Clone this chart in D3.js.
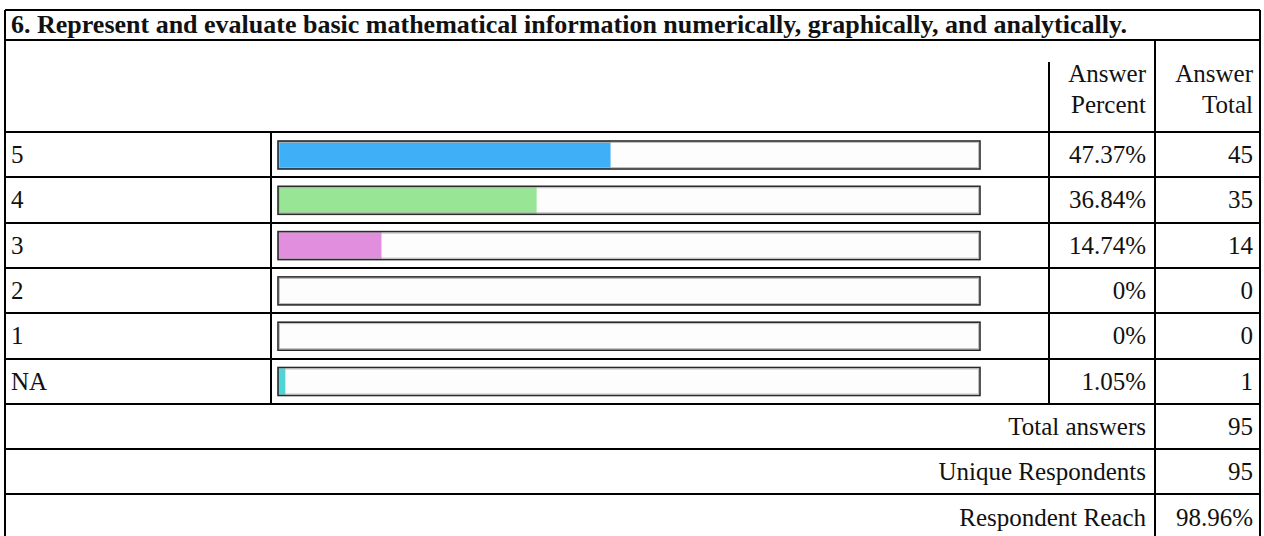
<!DOCTYPE html>
<html>
<head>
<meta charset="utf-8">
<script src="https://cdn.jsdelivr.net/npm/d3@7"></script>
<style>
  html, body { margin: 0; padding: 0; background: #fff; }
  svg { display: block; }
  text { font-family: "Liberation Serif", "Times New Roman", serif; fill: #111; }
</style>
</head>
<body>
<svg id="chart" width="1264" height="536"></svg>
<script>
const title = "6. Represent and evaluate basic mathematical information numerically, graphically, and analytically.";
const headerPercent = ["Answer", "Percent"];
const headerTotal = ["Answer", "Total"];
const categories = ["5", "4", "3", "2", "1", "NA"];
const percents = [47.37, 36.84, 14.74, 0, 0, 1.05];
const totals = [45, 35, 14, 0, 0, 1];
const barColors = ["#3fb0f7", "#98e596", "#e28ede", "#c8c8c8", "#c8c8c8", "#52d4d6"];
const summaryLabels = ["Total answers", "Unique Respondents", "Respondent Reach"];
const summaryValues = ["95", "95", "98.96%"];

const svg = d3.select("#chart");
const W = 1264, H = 536;

// layout
const xL = 5, xC1 = 271, xC2 = 1049, xC3 = 1155, xR = 1260;
const yTop = 10, yTitleB = 40, yHeadB = 132, rowH = 45.3;
const nRows = categories.length + summaryLabels.length;
const yRow = d3.scaleLinear().domain([0, nRows]).range([yHeadB, yHeadB + rowH * nRows]);
const xBar = d3.scaleLinear().domain([0, 100]).range([278, 980]);
const fmtPct = v => `${+v.toFixed(2)}%`;
const fs = 25;

const lines = svg.append("g").attr("stroke", "#000").attr("stroke-width", 2).attr("shape-rendering", "crispEdges");
const texts = svg.append("g").attr("font-size", fs);

// title
svg.append("text")
  .attr("x", 11).attr("y", 33)
  .attr("font-size", 26).attr("font-weight", "bold")
  .text(title);

function hline(x1, x2, y, w) { lines.append("line").attr("x1", x1).attr("x2", x2).attr("y1", y).attr("y2", y).attr("stroke-width", w || 2); }
function vline(x, y1, y2, w) { lines.append("line").attr("x1", x).attr("x2", x).attr("y1", y1).attr("y2", y2).attr("stroke-width", w || 2); }

hline(xL, xR, yTop);
hline(xL, xR, yTitleB);
vline(xL, yTop, H);
vline(xR, yTop, H);
vline(xC2, yTitleB + 22, yHeadB);
vline(xC3, yTitleB, H);

// header text
[[headerPercent, xC3 - 9], [headerTotal, xR - 7]].forEach(([lbl, x]) => {
  texts.append("text").attr("x", x).attr("y", 82).attr("text-anchor", "end").text(lbl[0]);
  texts.append("text").attr("x", x).attr("y", 113).attr("text-anchor", "end").text(lbl[1]);
});

// data rows
categories.forEach((c, i) => {
  const y0 = yRow(i), y1 = yRow(i + 1);
  hline(xL, xR, y0);
  vline(xC1, y0, y1);
  vline(xC2, y0, y1);
  const base = (y0 + y1) / 2 + 8.5;
  texts.append("text").attr("x", 11).attr("y", base).text(c);
  texts.append("text").attr("x", xC3 - 9).attr("y", base).attr("text-anchor", "end").text(fmtPct(percents[i]));
  texts.append("text").attr("x", xR - 7).attr("y", base).attr("text-anchor", "end").text(totals[i]);

  const by = y0 + 9, bh = 28;
  svg.append("rect")
    .attr("x", xBar(0)).attr("y", by).attr("width", xBar(100) - xBar(0)).attr("height", bh)
    .attr("fill", "#fdfdfd");
  if (percents[i] > 0) {
    svg.append("rect")
      .attr("x", xBar(0)).attr("y", by).attr("width", xBar(percents[i]) - xBar(0)).attr("height", bh)
      .attr("fill", barColors[i]);
  }
  svg.append("rect")
    .attr("x", xBar(0)).attr("y", by).attr("width", xBar(100) - xBar(0)).attr("height", bh)
    .attr("fill", "none").attr("stroke", "#2a2a2a").attr("stroke-width", 1.6);
  svg.append("rect")
    .attr("x", xBar(0) + 1.5).attr("y", by + 1.5).attr("width", xBar(100) - xBar(0) - 3).attr("height", bh - 3)
    .attr("fill", "none").attr("stroke", "#b0b0b0").attr("stroke-width", 0.8);
});

// summary rows
summaryLabels.forEach((s, j) => {
  const i = categories.length + j;
  const y0 = yRow(i), y1 = yRow(i + 1);
  hline(xL, xR, y0);
  const base = (y0 + y1) / 2 + 8.5;
  texts.append("text").attr("x", xC3 - 9).attr("y", base).attr("text-anchor", "end").text(s);
  texts.append("text").attr("x", xR - 7).attr("y", base).attr("text-anchor", "end").text(summaryValues[j]);
});
</script>
</body>
</html>
